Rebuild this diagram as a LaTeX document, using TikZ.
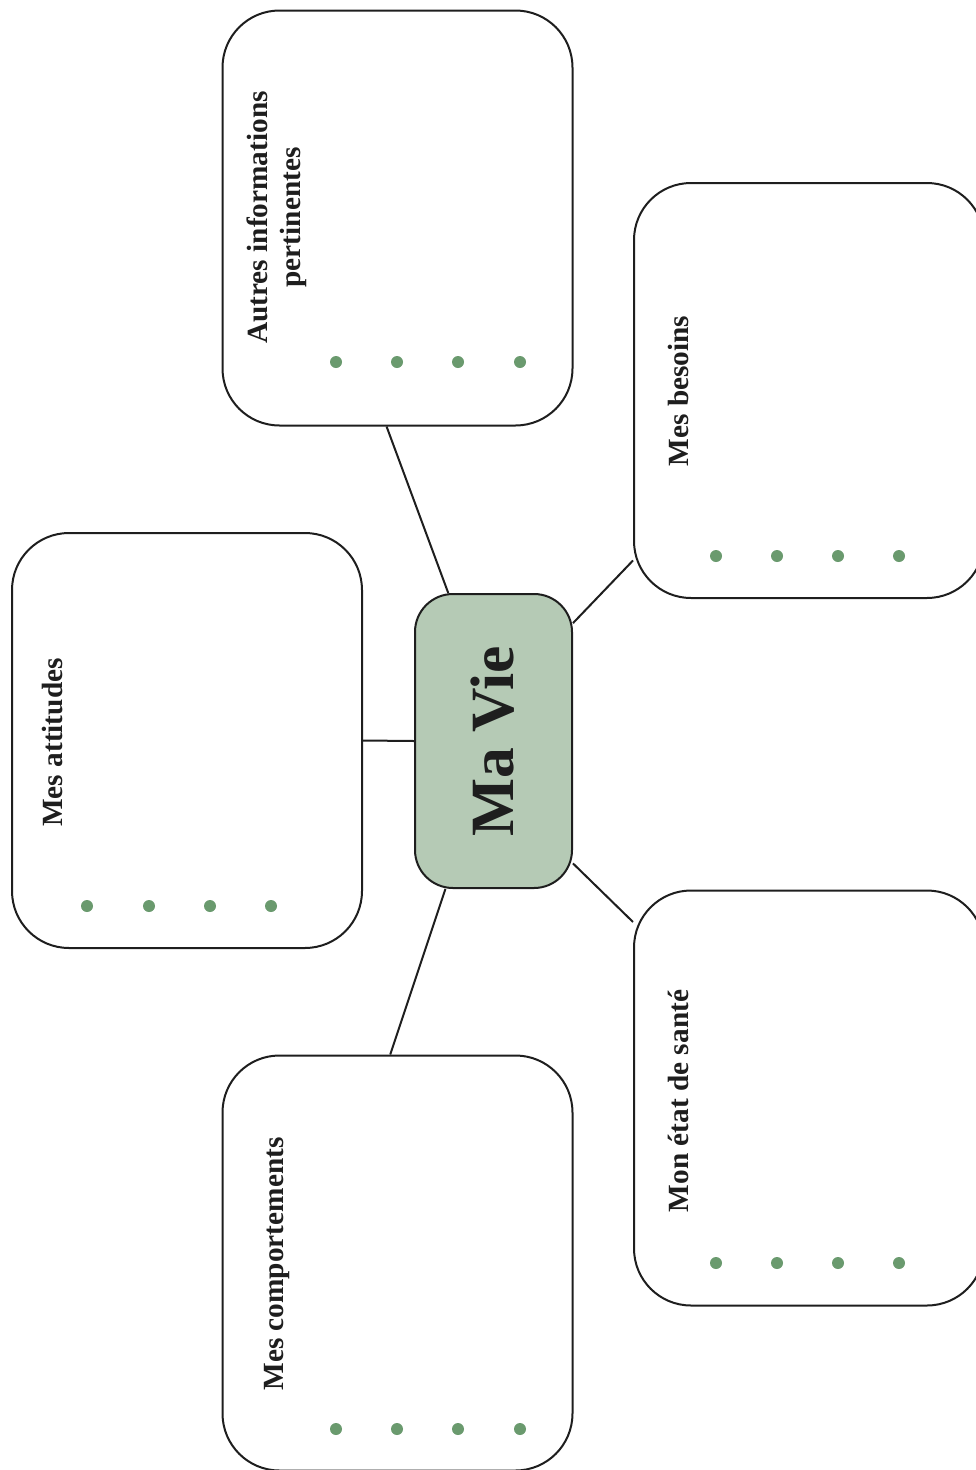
\documentclass[tikz,border=0pt]{standalone}
\usepackage{fontspec}
\setmainfont{Liberation Serif}
\usetikzlibrary{backgrounds}
\definecolor{ink}{HTML}{1E1E1E}
\definecolor{sage}{HTML}{B5CAB5}
\definecolor{dotgreen}{HTML}{6A9A6E}

\begin{document}
\begin{tikzpicture}[x=1pt, y=-1pt,
		card/.style={rectangle, draw=ink, line width=2pt, fill=white, rounded corners=57pt, minimum width=350pt, minimum height=415pt, inner sep=0pt},
		hub/.style={rectangle, draw=ink, line width=2pt, fill=sage, rounded corners=38pt, minimum width=157pt, minimum height=294pt, inner sep=0pt},
		cardtitle/.style={rotate=90, anchor=base, text=ink, inner sep=0pt, font=\fontsize{29.3}{33}\selectfont\bfseries},
		branch/.style={draw=ink, line width=2pt}
		]
		\useasboundingbox (0,0) rectangle (976,1470);
		
		% ---- CADRES ----
		\node[hub] (mavie) at (493.5, 741) {};
		\node[card] (autres) at (397.5, 218) {};
		\node[card] (besoins) at (809, 390.5) {};
		\node[card] (attitudes) at (187, 740.5) {};
		\node[card] (sante) at (809, 1098) {};
		\node[card] (comport) at (397.5, 1263) {};
		
		% ---- LIENS ----
		\begin{pgfonlayer}{background}
			\path[branch] (mavie.107.3) -- (autres.267.6);
			\path[branch] (mavie.56.6) -- (besoins.224.6);
			\path[branch] (mavie.west) -- (attitudes.east);
			\path[branch] (mavie.303.4) -- (sante.135.2);
			\path[branch] (mavie.252.7) -- (comport.92.4);
		\end{pgfonlayer}
		
		% ---- TITRES ----
		\node[cardtitle, font=\fontsize{61.5}{70}\selectfont\bfseries] (t-mavie) at (513, 741.5) {Ma Vie};
		\node[cardtitle, anchor=center, align=center] (t-autres) at (276.5, 217.5) {Autres informations\\pertinentes};
		\node[cardtitle] (t-besoins) at (688, 391) {Mes besoins};
		\node[cardtitle] (t-attitudes) at (62, 742.5) {Mes attitudes};
		\node[cardtitle] (t-sante) at (688, 1101) {Mon état de santé};
		\node[cardtitle] (t-comport) at (283, 1264) {Mes comportements};
		
		% ---- POINTS ----
		\fill[dotgreen] (336,362) circle (6pt) (397,362) circle (6pt) (458,362) circle (6pt) (520,362) circle (6pt);
		\fill[dotgreen] (716,556) circle (6pt) (777,556) circle (6pt) (838,556) circle (6pt) (899,556) circle (6pt);
		\fill[dotgreen] (87,906) circle (6pt) (149,906) circle (6pt) (210,906) circle (6pt) (271,906) circle (6pt);
		\fill[dotgreen] (716,1263) circle (6pt) (777,1263) circle (6pt) (838,1263) circle (6pt) (899,1263) circle (6pt);
		\fill[dotgreen] (336,1429) circle (6pt) (397,1429) circle (6pt) (458,1429) circle (6pt) (520,1429) circle (6pt);
		
	\end{tikzpicture}
\end{document}
